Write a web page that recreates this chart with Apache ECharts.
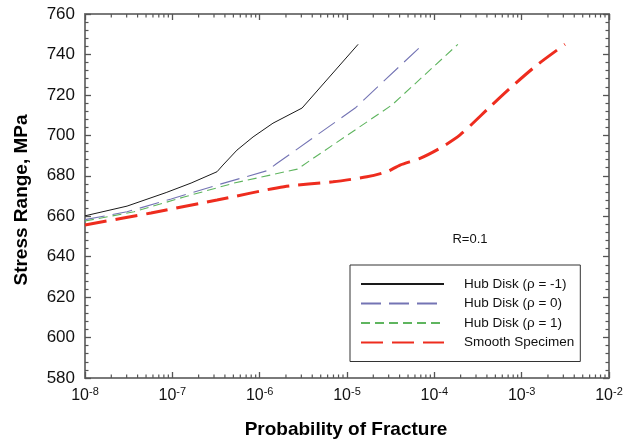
<!DOCTYPE html>
<html lang="en">
<head>
    <meta charset="UTF-8">
    <title>Stress Range vs Probability of Fracture</title>
    <script src="https://cdn.jsdelivr.net/npm/echarts@6/dist/echarts.min.js"></script>
    <style>
        html, body { margin: 0; padding: 0; background: #fff; }
        #main { width: 631px; height: 447px; }
    </style>
</head>
<body>
<div id="main"></div>

<script type="text/javascript">
    // probability of fracture (x) and stress range in MPa (y)
    var pHubNeg = [1e-8, 3.03e-8, 8.5e-8, 1.64e-7, 3.25e-7, 3.8e-7, 5.5e-7, 8.4e-7, 1.42e-6, 3.06e-6, 1.34e-5];
    var sHubNeg = [660.2, 665, 671.7, 676.4, 682, 685.3, 692.7, 699.2, 706, 713.5, 745];

    var pHubZero = [1e-8, 3.03e-8, 9.7e-8, 3.25e-7, 1.21e-6, 1.54e-6, 1.24e-5, 7.4e-5];
    var sHubZero = [658.3, 662.2, 668.5, 675.4, 682.5, 685.8, 713.5, 745];

    var pHubPos = [1e-8, 3.64e-8, 1.36e-7, 5.1e-7, 2.7e-6, 3.27e-5, 1.86e-4];
    var sHubPos = [657.6, 662.2, 669.5, 676.4, 683.3, 715, 745];

    var pSmooth = [1e-8, 5.7e-8, 3.25e-7, 1.9e-6, 6.9e-6, 1.69e-5, 2.87e-5, 4.05e-5, 6.86e-5, 1.16e-4, 1.97e-4, 4.34e-4, 7.36e-4, 1.5e-3, 3.13e-3];
    var sSmooth = [655.7, 661.6, 668, 674.6, 677, 679.5, 682, 685.3, 688.6, 693.6, 700.2, 714.1, 723.3, 734.8, 745];

    var seriesNames = ['Hub Disk (\u03c1 = -1)', 'Hub Disk (\u03c1 = 0)', 'Hub Disk (\u03c1 = 1)', 'Smooth Specimen'];

    var xMin = 1e-8, xMax = 1e-2;
    var yMin = 580, yMax = 760, yStep = 20;

    function pairs(xs, ys) {
        var out = [];
        for (var i = 0; i < xs.length; i++) out.push([xs[i], ys[i]]);
        return out;
    }

    // minor tick positions of the log axis (2..9 in each decade)
    var minorX = [];
    for (var e = -8; e < -2; e++) {
        for (var k = 2; k <= 9; k++) minorX.push([k * Math.pow(10, e), yMin]);
    }

    var font = 'Liberation Sans, Arial, sans-serif';
    var frame = '#7a7a7a';

    var myChart = echarts.init(document.getElementById('main'));

    var option = {
        animation: false,
        backgroundColor: '#fff',
        grid: { left: 85, right: 22, top: 14, bottom: 69 },
        xAxis: [{
            type: 'log',
            logBase: 10,
            min: xMin,
            max: xMax,
            axisLine: { lineStyle: { color: frame, width: 2 } },
            axisTick: { inside: true, length: 6, lineStyle: { color: '#555', width: 1.3 } },
            splitLine: { show: false },
            axisLabel: {
                margin: 8,
                color: '#111',
                fontFamily: font,
                formatter: function (v) {
                    return '{b|10}{s|' + Math.round(Math.log10(v)) + '}';
                },
                rich: {
                    b: { fontSize: 16, fontFamily: font, color: '#111' },
                    s: { fontSize: 11, fontFamily: font, color: '#111', padding: [0, 0, 9, 0] }
                }
            }
        }, {
            type: 'log',
            logBase: 10,
            min: xMin,
            max: xMax,
            position: 'top',
            axisLine: { lineStyle: { color: frame, width: 2 } },
            axisTick: { inside: true, length: 6, lineStyle: { color: '#555', width: 1.3 } },
            axisLabel: { show: false },
            splitLine: { show: false }
        }],
        yAxis: [{
            type: 'value',
            min: yMin,
            max: yMax,
            interval: yStep,
            axisLine: { show: true, lineStyle: { color: frame, width: 2 } },
            axisTick: { show: true, inside: true, length: 6, lineStyle: { color: '#555', width: 1.3 } },
            minorTick: { show: true, splitNumber: 5, length: 3.5, lineStyle: { color: '#555', width: 1.2 } },
            splitLine: { show: false },
            axisLabel: { fontSize: 17, fontFamily: font, color: '#111', margin: 10 }
        }, {
            type: 'value',
            min: yMin,
            max: yMax,
            interval: yStep,
            position: 'right',
            axisLine: { show: true, lineStyle: { color: frame, width: 2 } },
            axisTick: { show: true, inside: true, length: 6, lineStyle: { color: '#555', width: 1.3 } },
            minorTick: { show: true, splitNumber: 5, length: 3.5, lineStyle: { color: '#555', width: 1.2 } },
            splitLine: { show: false },
            axisLabel: { show: false }
        }],
        legend: {
            orient: 'vertical',
            left: 350,
            top: 265,
            padding: [12, 6, 12, 10],
            itemWidth: 83,
            itemHeight: 14,
            itemGap: 5.5,
            backgroundColor: '#fff',
            borderColor: '#333',
            borderWidth: 1,
            itemStyle: { opacity: 0 },
            textStyle: { fontSize: 13.5, fontFamily: font, color: '#111', padding: [0, 0, 0, 15] },
            data: seriesNames
        },
        graphic: [{
            type: 'text',
            x: 346, y: 430,
            style: {
                text: 'Probability of Fracture',
                font: 'bold 19px ' + font,
                fill: '#000',
                align: 'center',
                verticalAlign: 'middle'
            }
        }, {
            type: 'text',
            x: 22, y: 200,
            rotation: Math.PI / 2,
            style: {
                text: 'Stress Range, MPa',
                font: 'bold 19px ' + font,
                fill: '#000',
                align: 'center',
                verticalAlign: 'middle'
            }
        }, {
            type: 'text',
            x: 470, y: 239,
            style: {
                text: 'R=0.1',
                font: '13px ' + font,
                fill: '#111',
                align: 'center',
                verticalAlign: 'middle'
            }
        }],
        series: [{
            name: seriesNames[0],
            type: 'line',
            symbol: 'none',
            data: pairs(pHubNeg, sHubNeg),
            lineStyle: { color: '#1a1a1a', width: 1 },
            itemStyle: { color: '#1a1a1a' }
        }, {
            name: seriesNames[1],
            type: 'line',
            symbol: 'none',
            data: pairs(pHubZero, sHubZero),
            lineStyle: { color: '#7474b4', width: 1.1, type: [20, 8] },
            itemStyle: { color: '#7474b4' }
        }, {
            name: seriesNames[2],
            type: 'line',
            symbol: 'none',
            data: pairs(pHubPos, sHubPos),
            lineStyle: { color: '#5fb55f', width: 1.1, type: [9, 5] },
            itemStyle: { color: '#5fb55f' }
        }, {
            name: seriesNames[3],
            type: 'line',
            symbol: 'none',
            smooth: 0.25,
            data: pairs(pSmooth, sSmooth),
            lineStyle: { color: '#ee2c1e', width: 3, type: [22, 9] },
            itemStyle: { color: '#ee2c1e' }
        }, {
            name: 'minor ticks',
            type: 'custom',
            silent: true,
            clip: false,
            data: minorX,
            encode: { x: 0, y: 1 },
            renderItem: function (params, api) {
                var v = api.value(0);
                var b = api.coord([v, yMin]);
                var t = api.coord([v, yMax]);
                var st = { stroke: '#555', lineWidth: 1.2 };
                return {
                    type: 'group',
                    children: [
                        { type: 'line', shape: { x1: b[0], y1: b[1], x2: b[0], y2: b[1] - 3.5 }, style: st },
                        { type: 'line', shape: { x1: t[0], y1: t[1], x2: t[0], y2: t[1] + 3.5 }, style: st }
                    ]
                };
            }
        }]
    };

    myChart.setOption(option);
</script>
</body>
</html>
